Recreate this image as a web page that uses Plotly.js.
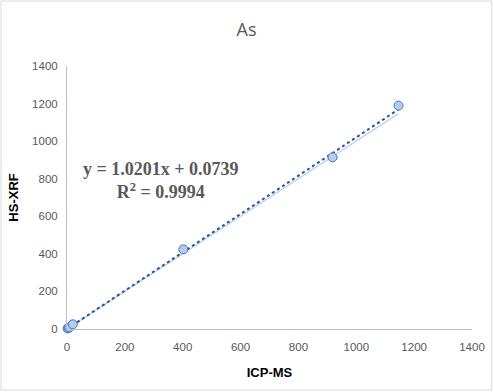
<!DOCTYPE html>
<html><head><meta charset="utf-8">
<script src="https://cdn.plot.ly/plotly-3.0.1.min.js"></script>
<style>html,body{margin:0;padding:0;background:#fff}</style>
</head><body><div id="chart" style="width:493px;height:392px"></div>
<script>
const icpms = [2, 5, 8, 20, 402, 918, 1146];
const hsxrf = [3, 6, 9, 25, 424, 914, 1189];
const slope = 1.0201, intercept = 0.0739;
const fitX = [0, 1146];
const fitY = fitX.map(x => slope * x + intercept);
const oneX = [0, 1146];
const oneY = [0, 1146];

const traces = [
  {x: oneX, y: oneY, mode: 'lines', line: {color: '#BDD7EE', width: 1.5}, hoverinfo: 'skip', cliponaxis: false},
  {x: fitX, y: fitY, mode: 'lines', line: {color: '#2F5597', width: 2, dash: 'dot'}, hoverinfo: 'skip', cliponaxis: false},
  {x: icpms, y: hsxrf, mode: 'markers', cliponaxis: false, marker: {size: 9, color: '#B4CDEC', line: {color: '#4472C4', width: 1}}}
];
const axisFont = {family: 'Liberation Sans, Arial, sans-serif', size: 11.5, color: '#595959'};
const layout = {
  width: 493, height: 392,
  margin: {l: 67, r: 21, t: 66, b: 63},
  paper_bgcolor: '#fff', plot_bgcolor: '#fff',
  showlegend: false,
  title: {text: 'As', x: 0.5, xanchor: 'center', y: 0.925, yanchor: 'middle',
    font: {family: 'Open Sans, Liberation Sans, sans-serif', size: 18, color: '#595959'}},
  xaxis: {range: [0, 1400], dtick: 200, showgrid: false, zeroline: false, showline: true,
    linecolor: '#BFBFBF', linewidth: 1, ticks: '', tickfont: axisFont, ticklabelstandoff: 7,
    title: {text: '<b>ICP-MS</b>', standoff: 16, font: {family: 'Liberation Sans, Arial, sans-serif', size: 13, color: '#000'}}},
  yaxis: {range: [0, 1400], dtick: 200, showgrid: false, zeroline: false, showline: true,
    linecolor: '#BFBFBF', linewidth: 1, ticks: '', tickfont: axisFont, ticklabelstandoff: 6,
    title: {text: '<b>HS-XRF</b>', standoff: 10, font: {family: 'Liberation Sans, Arial, sans-serif', size: 13, color: '#000'}}},
  annotations: [{
    xref: 'x', yref: 'y', x: 325, y: 790, showarrow: false, align: 'center',
    text: '<b>y = 1.0201x + 0.0739<br>R<sup>2</sup> = 0.9994</b>',
    font: {family: 'Liberation Serif, Times New Roman, serif', size: 18, color: '#595959'}
  }],
  shapes: [{type: 'rect', xref: 'paper', yref: 'paper', x0: -0.163, x1: 1.049, y0: -0.232, y1: 1.247,
    line: {color: '#D9D9D9', width: 1}}]
};
Plotly.newPlot('chart', traces, layout, {displayModeBar: false, staticPlot: true});
</script></body></html>
